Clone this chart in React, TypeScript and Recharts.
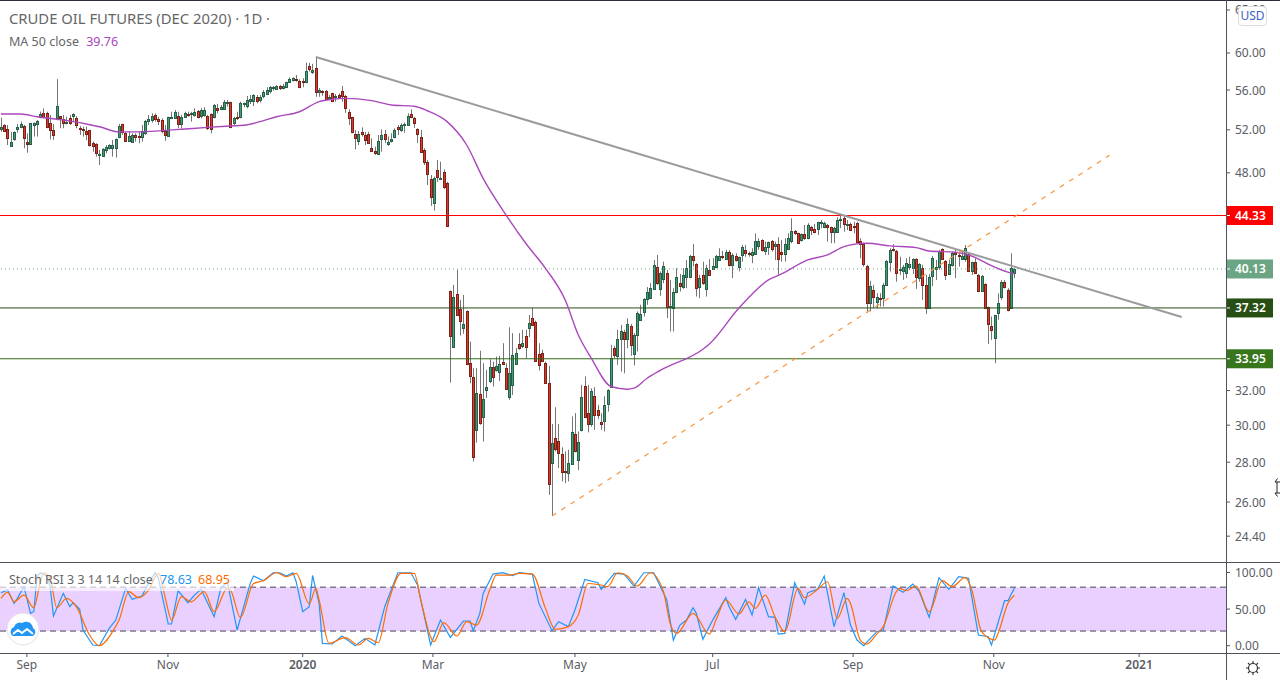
// App.tsx - crude oil futures daily chart with MA 50 and Stoch RSI pane
import React from "react";
import {
  Bar,
  ComposedChart,
  Line,
  ReferenceArea,
  ReferenceLine,
  XAxis,
  YAxis,
} from "recharts";

// open, high, low, close - Sep 2019 to Oct 2019
const candlesSep19 = [
  [52.1,53.2,51.8,52.3],[52.44,52.55,51.8,51.9],[52.05,52.47,50.55,51.18],[50.48,51.8,50.4,50.8],[51.08,51.85,50.95,51.8],
  [52.1,52.57,51.72,52.27],[52.3,52.8,52.15,52.57],[52.37,52.47,50.25,51.25],[50.8,51.66,49.83,50.68],[50.68,52.65,50.65,52.63],
  [52.5,52.72,51.35,52.7],[52.6,52.96,51.35,52.86],[53.22,53.8,53.12,53.52],[53.62,54.13,53.12,53.22],[53.62,53.78,52.15,52.3],
  [52.63,53.45,51.08,51.98],[51.98,52.57,51.02,51.53],[53.15,57.15,52.96,54.33],[53.32,53.35,52.15,53.15],[53.03,53.45,52.15,52.63],
  [52.63,53.28,52.53,52.8],[53.12,53.45,52.47,52.7],[53.35,53.62,52.8,53.55],[53.15,53.35,52.15,52.5],[52.18,52.37,51.5,52.1],
  [52.1,52.3,51.35,51.98],[51.88,52.3,51.02,51.62],[51.98,52,50.4,50.52],[50.72,50.87,49.92,50.46],[50.64,50.72,49.47,49.83],
  [49.65,50.08,48.7,49.72],[49.55,50.25,49.47,50.14],[50.08,50.55,49.78,50.33],[50.3,50.62,50.14,50.55],[50.3,51.02,49.47,50.52],
  [50.3,51.18,49.38,51.08],[51.35,52.57,51.18,52.34],[52.57,52.6,51.5,51.8],[51.72,51.8,50.87,50.95],[50.95,51.8,50.87,51.42],
  [50.87,51.66,50.78,51.5],[51.5,51.66,50.87,51.32],[51.42,51.8,50.72,51.32],[51.32,52.47,50.87,51.85],[51.72,52.96,51.5,52.83],
  [52.83,53.45,52.47,53.03],[52.93,53.62,52.7,53.38],[53.42,53.62,52.8,53.03],[53.03,53.28,52.47,52.9],
];

// Nov 2019 to mid Jan 2020
const candlesNov19 = [
  [52.96,53.12,51.66,51.85],[51.92,52.47,50.95,51.47],[51.42,53.28,51.35,53.22],[53.18,53.78,53.12,53.28],[53.18,53.95,53.12,53.72],
  [53.38,53.78,52.15,52.57],[52.57,53.45,52.15,53.22],[53.28,53.78,53.25,53.62],[53.58,53.78,53.28,53.42],[53.52,53.78,52.8,53.62],
  [53.45,54.13,53.28,53.78],[53.82,53.95,53.12,53.28],[53.38,54.13,53.12,53.92],[53.45,54.23,53.28,53.95],[53.35,53.45,51.98,52.15],
  [53.55,53.62,51.66,52.1],[53.28,54.56,53.12,54.43],[54.16,54.56,53.62,53.98],[54.09,54.46,53.95,54.26],[54.09,54.97,53.95,54.76],
  [54.7,54.97,54.28,54.76],[54.76,54.8,52.15,52.3],[52.7,53.28,52.47,53.15],[53.25,53.78,52.96,53.12],[53.25,54.8,53.12,54.66],
  [54.53,54.7,54.23,54.63],[54.36,55.38,54.13,54.97],[54.84,55.48,54.56,55.04],[54.84,55.58,54.36,55.48],[55.24,55.48,54.63,54.9],
  [54.97,55.48,54.7,55.24],[55.41,56,55.14,55.76],[55.55,56.29,55.48,56],[55.93,56.42,55.65,56.29],[56.21,56.42,55.93,56.32],
  [56.07,56.5,56,56.39],[56.39,56.53,56,56.18],[56.25,56.64,56.07,56.46],[56.35,56.88,56.29,56.81],[56.88,57.35,56.76,57.13],
  [57.02,57.35,56.88,57.24],[57.13,57.59,56.88,57.02],[56.95,57.13,56.18,56.35],[56.95,57.24,56.29,56.85],[56.85,58.93,56.71,58.02],
  [58.57,58.9,57.95,58.2],[57.88,58.8,57.7,58.13],[58.34,59.59,55.3,55.76],
];

// mid Jan 2020 to the March gap
const candlesJan20 = [
  [55.8,56.2,55.3,56],[55.86,56,55.41,55.76],[55.9,56,55.04,55.1],[55.14,55.48,55.04,55.3],[55.65,55.72,54.8,54.87],
  [55.24,55.58,54.8,55.38],[55.45,55.65,55.14,55.3],[55.86,56.42,54.8,55.41],[55.38,55.48,53.68,54.2],[53.72,54.02,52.47,53.18],
  [53.22,53.28,51.66,51.8],[51.56,51.98,50.14,51.25],[50.95,51.88,50.55,51.56],[51.75,52.24,51.35,51.56],[51.47,51.8,50.55,50.99],
  [51.56,51.8,50.72,50.78],[50.25,51.18,49.92,49.98],[49.98,50.4,49.62,49.83],[49.74,51.5,49.72,50.9],[51.15,52.05,49.92,51.47],
  [51.56,51.98,50.72,51.15],[50.68,51.35,50.46,50.8],[50.95,51.66,50.78,51.08],[51.28,52.15,51.18,51.95],[52.24,52.47,51.5,52.05],
  [52.01,52.63,51.8,52.44],[52.44,52.7,51.72,52.53],[52.5,53.62,52.37,53.35],[53.52,54.02,53.12,53.28],[53.12,53.28,52.2,52.7],
  [52.05,52.15,50.72,51.56],[51.28,51.98,49.83,49.92],[50.05,50.25,48.7,49],[48.95,49.16,46.92,47.92],[47.42,47.8,45.13,45.86],
  [45.4,47.65,44.73,47.5],[48.22,49.16,47.2,47.65],[47.44,49,47.4,47.56],[48.05,48.3,46.57,46.77],[47.07,47.2,43.42,43.5],
];

// March 2020 crash and the rebound into June
const candlesMar20 = [
  [38.52,38.55,32.48,35.45],[34.7,38.96,34.63,38.1],[38.29,40.06,36.77,36.84],[37.28,37.89,35.45,36.45],[35.92,38.24,35.57,36.23],
  [37.1,37.15,33.55,33.61],[33.71,35.05,32.44,32.9],[32.8,33.36,28.04,28.27],[29.76,33.36,29.04,31.88],[31.78,34.46,30.02,30.15],
  [30.48,33.67,29.1,31.49],[32.06,33.26,31.56,32.2],[32.6,33.92,32.44,33.43],[33.43,33.77,32.24,32.8],[33.22,34.09,33.15,33.51],
  [33.12,34.14,32.57,33.61],[33.73,34.95,33.55,33.61],[33.36,33.67,32.08,32.12],[31.59,36,31.45,33.05],[32.32,35.61,31.74,34.18],
  [33.59,34.63,33.57,34.34],[34.92,35.61,34.52,34.66],[34.77,35.83,34.63,34.97],[35.41,35.83,33.98,34.73],[35.98,36.84,35.35,36.27],
  [36.61,37.31,36.09,36.14],[36.39,36.45,33.75,33.83],[34.24,34.95,33.22,33.53],[34.3,34.52,33.77,33.83],[33.67,33.77,32.4,32.44],
  [32.44,33.51,26.35,26.88],[27.96,30.07,25.33,29],[29.28,31.02,28.57,28.7],[29.12,30.07,27.7,28.46],[28.42,28.79,27.02,27.49],
  [27.54,28.57,26.93,27.49],[27.44,28.66,27.02,27.96],[27.91,30.49,27.87,29.61],[29.5,30.68,28.52,28.59],[28.11,29.65,27.59,29.06],
  [29.72,32.34,29.65,31.62],[32.26,32.85,30.4,30.45],[30.68,32.34,29.6,30.09],[30.09,32.14,29.92,31.96],[31.66,32.2,29.74,30.56],
  [30.85,31.16,30.34,30.6],[30.18,30.68,29.74,30.06],[30.26,31.66,29.65,31.14],[31.2,32.08,30.77,32.02],[32.24,34.84,32.2,34.02],
  [34.63,34.77,33.98,34.16],[34.14,35.83,33.57,35.21],[35.21,36.16,33.15,35.74],[35.68,35.83,33.05,35.21],[35.21,36.61,34.63,36.2],
  [36.07,36.23,34.14,34.82],[34.24,35.61,33.53,35.47],[35.47,37.08,34.41,36.95],[36.48,37.54,36.45,36.88],[37.03,38.01,36.73,37.94],
  [37.94,38.8,37.54,38.43],[38.03,39.08,37.94,38.72],[38.67,40.81,38.6,40.42],[40.27,41.19,38.96,39.08],[38.67,39.94,38.17,39.81],
];

// June 2020 to end of August
const candlesJun20 = [
  [39.4,40.68,39.08,40.36],[39.81,40.06,36.62,37.42],[37.38,39.32,35.72,37.47],[37.31,38.72,35.72,38.45],[38.43,40.18,38.36,39.52],
  [39.08,39.76,38.48,38.91],[38.77,40.18,38.67,39.69],[39.52,40.81,38.72,40.18],[39.56,41.19,39.45,41.11],[41.11,42.05,40.31,40.83],
  [40.49,40.57,38.12,38.72],[38.77,39.69,38.01,39.45],[39.66,40.68,38.96,39.08],[38.67,40.44,38.12,40.18],[40.06,40.86,39.62,39.66],
  [40.11,40.94,40.06,40.36],[40.26,41.19,40.18,41.09],[40.81,41.71,40.78,41.09],[41.09,41.5,40.85,41.03],[40.91,41.58,40.81,41.42],
  [41.42,41.58,40.31,40.42],[40.42,41.32,39.45,41.19],[41.09,41.32,40.68,40.79],[40.31,41.06,39.94,41.01],[41.21,41.97,40.68,41.79],
  [41.55,41.97,41.06,41.37],[41.32,41.45,41.06,41.24],[41.17,41.71,40.57,41.4],[41.24,42.88,41.19,42.26],[41.92,42.49,41.58,42.26],
  [42.33,42.41,41.45,41.55],[41.48,42.23,41.19,41.79],[41.79,42.23,41.19,42.18],[42.26,42.36,41.45,41.68],[41.87,42.23,40.81,42.03],
  [42.03,42.57,39.69,40.91],[41.4,42.36,40.68,41.24],[41.24,42.49,40.68,42.03],[41.68,42.88,41.58,42.49],[42.26,44.1,42.1,43.04],
  [43.04,43.15,42.75,42.88],[42.88,42.93,42.05,42.15],[42.33,42.88,42.23,42.8],[42.8,43.56,42.36,42.49],[42.49,43.7,42.41,43.53],
  [43.37,43.48,42.75,43.12],[43.26,43.64,42.88,42.96],[43.2,43.82,42.75,43.77],[43.69,43.96,43.29,43.77],[43.42,43.82,43.29,43.69],
  [43.53,43.64,42.23,43.37],[43.37,43.42,42.1,42.96],[43.02,43.42,42.1,43.29],[43.02,44.18,42.93,43.96],
];

// September 2020 to the last session
const candlesSep20 = [
  [43.96,44.37,43.29,44.04],[44.1,44.37,43.02,43.61],[43.53,43.96,43.15,43.64],[43.61,43.75,43.1,43.15],[43.48,43.82,42.88,43.42],
  [43.72,43.82,42.1,42.23],[42.26,42.49,40.94,42.07],[42.05,42.15,40.31,40.54],[40.34,40.44,37,37.7],[37.7,39.25,37.08,38.87],
  [38.6,38.96,37.31,38.12],[37.77,38.36,37.31,38.08],[38.03,38.36,37.42,37.98],[38.05,39.08,37.42,38.94],[38.98,40.81,38.87,40.73],
  [40.68,41.71,39.94,41.55],[41.63,42.03,41.45,41.55],[41.48,41.58,39.19,39.86],[40.06,41.06,39.69,40.11],[40.01,40.44,39.32,40.27],
  [39.86,40.94,39.45,40.57],[40.31,41.06,40.06,40.49],[40.21,40.94,39.76,40.86],[40.86,40.94,38.67,39.56],[39.45,40.57,39.19,40.49],
  [40.18,40.44,37.89,38.98],[38.94,39.69,36.91,37.35],[37.35,39.76,37.31,39.52],[39.6,41.11,38.87,40.94],[40.14,40.81,39.32,40.27],
  [40.26,41.58,40.06,41.48],[41.63,41.71,40.81,40.91],[40.71,40.81,39.32,39.71],[39.79,40.81,39.69,40.49],[40.46,41.45,40.31,41.32],
  [41.4,41.58,39.45,41.24],[41.19,41.45,40.31,41.09],[40.91,41.58,40.86,41.11],[40.86,41.97,40.68,41.71],[41.24,41.32,39.94,40.01],
  [40.01,40.68,39.69,40.63],[40.63,40.94,39.81,39.86],[39.66,39.76,38.48,38.55],[38.55,39.69,38.48,39.59],[39.01,39.08,37.31,37.33],
  [37.38,37.42,34.9,36.2],[36.07,36.73,35.17,35.8],[35.28,36.84,33.67,36.82],[37,38.36,36.5,37.66],[38.12,39.32,37.89,39.15],
  [39.15,39.32,38.7,38.77],[38.58,38.72,37.08,37.17],[37.35,41.32,37.31,40.23],[39.86,40.18,39.45,40.13],
];

// MA 50 close: session index, value
const ma50 = [
  [0,53.55],[6,53.55],[11,53.28],[17,53.03],[22,52.8],[26,52.57],[30,52.3],[36,51.8],[42,51.8],[49,51.92],[55,52.05],
  [63,52.24],[70,52.37],[74,52.44],[79,52.8],[84,53.28],[91,53.78],[97,54.8],[101,55.04],[105,55.14],[113,54.9],
  [119,54.46],[126,54.33],[130,53.88],[136,52.8],[142,50.55],[147,47.5],[154,44.37],[160,42.1],[166,40.18],[172,37.89],
  [176,35.5],[180,33.98],[186,32.24],[191,32.08],[193,32.14],[197,32.74],[201,33.22],[214,34.56],[216,34.9],[225,37.31],
  [234,39.32],[238,39.76],[246,40.81],[252,41.19],[257,41.84],[261,42.05],[264,42.1],[271,41.89],[279,41.76],[283,41.5],
  [291,41.4],[297,41.01],[301,40.49],[307,39.89],[309,39.76],
];

// Drawn trend lines: session index, price
const fallingTrend = [[96,59.56],[360,36.7]];
const risingTrend = [[168,25.33],[338,49.6]];

// Stoch RSI %K: session index, value
const stochK = [
  [0,72.4],[2,76],[4,57.8],[5,64.7],[7,80.6],[9,44.2],[10,46.4],[11,94.3],[12,99.7],[14,95.2],[15,80.6],[16,40.5],[19,71.5],
  [21,53.3],[22,58.7],[24,49.6],[25,21.4],[28,0.9],[30,0],[33,23.7],[35,35],[38,78.3],[40,63.3],[43,67.9],[45,85.2],[47,99.7],
  [48,92],[51,29.6],[52,29.6],[54,75.1],[57,58.7],[59,69.2],[61,77],[65,39.6],[67,78.3],[69,87.4],[72,21.4],[76,85.2],[77,95.2],
  [80,88.8],[83,99.7],[85,99.7],[87,95.2],[89,99.7],[90,87.4],[92,46.4],[94,53.3],[95,96],[97,57.8],[98,3.2],[101,2.3],[104,13.2],
  [108,0],[111,10],[114,0.9],[117,53.3],[121,99.7],[125,99.7],[127,82.9],[131,1],[134,35],[137,11.4],[141,33.7],[143,33.7],[144,20.5],
  [146,44.2],[147,71.5],[150,97.9],[153,99.7],[156,95.6],[158,99.7],[162,97.9],[164,57.8],[168,20.5],[170,32.8],[173,26],[175,48.7],
  [178,90.6],[182,86],[183,77],[187,98.8],[190,97.9],[193,81.5],[196,99.7],[199,99.7],[203,62.4],[205,7.7],[207,28.2],[209,35],[211,51.9],
  [212,44.2],[214,8.7],[217,35],[221,65.6],[222,53.3],[224,36],[227,63.3],[229,41.9],[231,79.2],[234,39.6],[236,38.7],[237,15.9],[239,16.8],
  [242,86],[245,56.9],[246,72.4],[249,77],[251,95.2],[254,26],[257,72.4],[259,28.2],[261,7.7],[263,0],[267,19.1],[269,21.4],[272,81.5],
  [275,72.9],[278,84.2],[280,73.8],[283,38.7],[286,92.9],[289,77],[292,94.3],[295,92],[298,14.6],[301,12.3],[302,0.9],[306,61.5],[307,61.5],[309,78.63],
];

// Stoch RSI %D: session index, value
const stochD = [
  [0,64.7],[2,72.9],[4,60],[7,69],[10,52],[12,87],[13,99.7],[15,92],[17,52],[20,64.7],[23,53],[27,14.6],[30,0],[34,19],[36,35],[39,73.8],
  [42,65.6],[45,76],[48,98.8],[50,67],[52,35],[55,67],[58,60],[62,73.8],[65,46.4],[69,78.3],[70,76],[73,38.7],[77,85],[80,88.8],[84,99.7],
  [87,94.3],[90,98.8],[94,57],[96,78.3],[97,62.4],[100,3.2],[105,10.9],[109,0.9],[112,10],[115,4],[118,57.8],[122,98.8],[126,98.8],[128,62.4],
  [131,12.3],[132,5.5],[135,31.4],[139,13.2],[142,32.8],[145,28.2],[149,76],[151,96.5],[155,96.5],[158,98.8],[162,97.9],[166,51],[169,22.3],
  [173,26],[176,41.9],[179,85],[183,82.9],[185,80.6],[188,99.7],[191,95.2],[194,81.5],[198,99.7],[202,73.8],[204,30.5],[206,16.8],[211,44.2],
  [216,15.9],[218,35],[221,62.4],[225,43.3],[228,60],[230,51],[233,69.2],[236,39.6],[239,19.1],[243,78.3],[245,65.6],[249,77],[252,87.4],
  [255,37.3],[258,64.7],[259,57.8],[262,7.7],[264,2.3],[267,15.9],[269,26],[273,73.8],[274,78.3],[276,75.1],[279,81.5],[283,46.4],[287,88.8],
  [290,80.6],[294,93.4],[296,76],[299,19.1],[303,7.7],[304,16.8],[307,57.8],[309,68.95],
];

// Axis ticks
const priceTicks = [65, 60, 56, 52, 48, 44.33, 40.13, 37.32, 33.95, 32, 30, 28, 26, 24.4];
const stochTicks = [0, 50, 100];
const timeTicks = [7.9, 50.9, 92, 131.7, 175, 217, 259.8, 302.7, 347];
const timeLabels = ["Sep", "Nov", "2020", "Mar", "May", "Jul", "Sep", "Nov", "2021"];

const RESISTANCE = 44.33;
const LAST_PRICE = 40.13;
const SUPPORT_HIGH = 37.32;
const SUPPORT_LOW = 33.95;

const candles = [
  ...candlesSep19,
  ...candlesNov19,
  ...candlesJan20,
  ...candlesMar20,
  ...candlesJun20,
  ...candlesSep20,
].map(([open, high, low, close], i) => ({ i, open, high, low, close, range: [low, high] }));

const toPoints = (rows: number[][]) => rows.map(([i, v]) => ({ i, v }));

const FONT = "'Noto Sans', sans-serif";
const AXIS_COLOR = "#50535e";
const TEXT_COLOR = "#5a5d66";
const LEGEND_COLOR = "#666";
const X_DOMAIN: [number, number] = [-0.3, 373.5];

const BADGES: Record<string, string> = {
  "44.33": "#ff0000",
  "40.13": "#6ba583",
  "37.32": "#274e13",
  "33.95": "#38761d",
};

// One candle: the Bar spans low..high, open and close are placed on the same log scale
const Candle = (props: any) => {
  const { x, y, width, height, payload } = props;
  const { open, close, high, low } = payload;
  const toY = (v: number) =>
    y + (height * (Math.log(high) - Math.log(v))) / (Math.log(high) - Math.log(low));
  const cx = Math.round(x + width / 2);
  const up = close >= open;
  const top = Math.round(toY(Math.max(open, close)));
  const bottom = Math.round(toY(Math.min(open, close)));
  return (
    <g>
      <line x1={cx + 0.5} x2={cx + 0.5} y1={y} y2={y + height} stroke="#757575" strokeWidth={1} />
      <rect
        x={cx - 0.5}
        y={top + 0.5}
        width={2}
        height={Math.max(bottom - top, 1)}
        fill={up ? "#479a74" : "#dd3a2e"}
        stroke={up ? "#256048" : "#7a2118"}
        strokeWidth={1}
      />
    </g>
  );
};

const PriceTick = (props: any) => {
  const { x, y, payload } = props;
  const label = payload.value.toFixed(2);
  const badge = BADGES[label];
  return (
    <g>
      {badge && <rect x={x - 4} y={y - 9.5} width={47} height={19} fill={badge} />}
      {badge && <line x1={x - 4} x2={x} y1={y} y2={y} stroke="#ffffff" />}
      <text
        x={x + 5}
        y={y + 4.5}
        fontFamily={FONT}
        fontSize={12}
        fill={badge ? "#ffffff" : TEXT_COLOR}
        fontWeight={badge ? 600 : 400}
      >
        {label}
      </text>
    </g>
  );
};

const TimeTick = (props: any) => {
  const { x, y, index } = props;
  const label = timeLabels[index];
  const isYear = label.length === 4;
  return (
    <text
      x={x}
      y={y + 10}
      textAnchor="middle"
      fontFamily={FONT}
      fontSize={12}
      fontWeight={isYear ? 600 : 400}
      fill={TEXT_COLOR}
    >
      {label}
    </text>
  );
};

const Overlay = () => (
  <>
    {/* frame lines */}
    <div style={{ position: "absolute", left: 0, top: 0, width: 1280, height: 1, background: "#2a2e39" }} />
    <div style={{ position: "absolute", left: 0, top: 562, width: 1280, height: 1, background: AXIS_COLOR }} />
    <div style={{ position: "absolute", left: 0, top: 653, width: 1280, height: 1, background: AXIS_COLOR }} />
    <div style={{ position: "absolute", left: 1226, top: 0, width: 1, height: 680, background: AXIS_COLOR }} />

    {/* main pane legend */}
    <div style={{ position: "absolute", left: 9, top: 7.5, fontFamily: FONT, fontSize: 14.8, color: LEGEND_COLOR, whiteSpace: "nowrap" }}>
      CRUDE OIL FUTURES (DEC 2020) · 1D ·
    </div>
    <div style={{ position: "absolute", left: 9, top: 33, fontFamily: FONT, fontSize: 12.5, color: LEGEND_COLOR, whiteSpace: "nowrap" }}>
      MA 50 close <span style={{ color: "#ab47bc", marginLeft: 4 }}>39.76</span>
    </div>

    {/* stoch legend */}
    <div
      style={{
        position: "absolute",
        left: 0,
        top: 571,
        width: 234,
        height: 20,
        background: "rgba(255,255,255,0.65)",
      }}
    />
    <div style={{ position: "absolute", left: 9, top: 570.5, fontFamily: FONT, fontSize: 12.5, color: LEGEND_COLOR, whiteSpace: "nowrap" }}>
      Stoch RSI 3 3 14 14 close{" "}
      <span style={{ color: "#2196f3", marginLeft: 4 }}>78.63</span>
      <span style={{ color: "#ff6d00", marginLeft: 6 }}>68.95</span>
    </div>

    {/* currency badge */}
    <div
      style={{
        position: "absolute",
        left: 1238,
        top: 6,
        width: 29,
        height: 20,
        boxSizing: "border-box",
        background: "#fff",
        border: "1px solid #dcdcdc",
        borderRadius: 4,
        fontFamily: FONT,
        fontSize: 12,
        lineHeight: "18px",
        textAlign: "center",
        color: "#3d62c4",
      }}
    >
      USD
    </div>

    {/* logo */}
    <svg style={{ position: "absolute", left: 6, top: 612 }} width={34} height={34}>
      <circle cx={17} cy={17} r={16} fill="#fff" stroke="#e8dfe8" />
      <path d="M7 24 a5 5 0 0 1 1 -9 a6 6 0 0 1 8 -4 a7 7 0 0 1 11 5 a4.5 4.5 0 0 1 0 8 z" fill="#2196f3" />
      <path d="M7 22 l5 -4 l4 3 l5 -4 l6 5" fill="none" stroke="#fff" strokeWidth={2} />
    </svg>

    {/* settings gear */}
    <svg style={{ position: "absolute", left: 1245, top: 660 }} width={16} height={16}>
      <circle cx={8} cy={8} r={4.5} fill="none" stroke="#333" strokeWidth={1.2} />
      <path
        d="M8 1v2.5M8 12.5V15M1 8h2.5M12.5 8H15M3 3l1.8 1.8M11.2 11.2L13 13M3 13l1.8-1.8M11.2 4.8L13 3"
        stroke="#333"
        strokeWidth={1.2}
      />
    </svg>

    {/* resize cursor left on the price scale */}
    <svg style={{ position: "absolute", left: 1274, top: 477 }} width={6} height={21}>
      <path d="M3.5 1.5 L1 5 H3 V16 H1 L3.5 19.5 M3 5 H6 M3 16 H6" fill="none" stroke="#222" strokeWidth={1} />
    </svg>
  </>
);

export default function App() {
  return (
    <div style={{ position: "absolute", left: 0, top: 0, width: 1280, height: 680, background: "#fff", overflow: "hidden" }}>
      {/* price pane */}
      <div style={{ position: "absolute", left: 0, top: 0 }}>
        <ComposedChart
          width={1280}
          height={563}
          data={candles}
          barCategoryGap={0}
          margin={{ top: 0, right: 0, bottom: 0, left: 0 }}
        >
          <XAxis type="number" dataKey="i" domain={X_DOMAIN} hide allowDataOverflow />
          <YAxis
            orientation="right"
            width={54}
            scale="log"
            domain={[23.21, 66.22]}
            allowDataOverflow
            ticks={priceTicks}
            interval={0}
            tick={<PriceTick />}
            tickSize={4}
            tickMargin={0}
            tickLine={{ stroke: AXIS_COLOR }}
            axisLine={false}
          />
          <Bar dataKey="range" barSize={3} shape={<Candle />} isAnimationActive={false} />
          <ReferenceLine y={RESISTANCE} stroke="#ff0000" />
          <ReferenceLine y={LAST_PRICE} stroke="#6ba583" strokeDasharray="1 3" />
          <ReferenceLine y={SUPPORT_HIGH} stroke="#274e13" />
          <ReferenceLine y={SUPPORT_LOW} stroke="#2f6a14" />
          <Line
            data={toPoints(ma50)}
            dataKey="v"
            type="monotone"
            stroke="#ab47bc"
            strokeWidth={1.4}
            dot={false}
            isAnimationActive={false}
          />
          <Line
            data={toPoints(fallingTrend)}
            dataKey="v"
            stroke="#9b9b9b"
            strokeWidth={2}
            dot={false}
            isAnimationActive={false}
          />
          <Line
            data={toPoints(risingTrend)}
            dataKey="v"
            stroke="#f7963f"
            strokeWidth={1.2}
            strokeDasharray="5 6"
            dot={false}
            isAnimationActive={false}
          />
        </ComposedChart>
      </div>

      {/* stoch rsi pane */}
      <div style={{ position: "absolute", left: 0, top: 563 }}>
        <ComposedChart width={1280} height={117} margin={{ top: 0, right: 0, bottom: 0, left: 0 }}>
          <XAxis
            type="number"
            dataKey="i"
            domain={X_DOMAIN}
            allowDataOverflow
            ticks={timeTicks}
            interval={0}
            height={27}
            tick={<TimeTick />}
            tickSize={4}
            tickLine={{ stroke: AXIS_COLOR }}
            axisLine={false}
          />
          <YAxis
            orientation="right"
            width={54}
            domain={[-10, 113]}
            allowDataOverflow
            ticks={stochTicks}
            interval={0}
            tick={<PriceTick />}
            tickSize={4}
            tickMargin={0}
            tickLine={{ stroke: AXIS_COLOR }}
            axisLine={false}
          />
          <ReferenceArea y1={20} y2={80} fill="#9c27ff" fillOpacity={0.22} stroke="none" />
          <ReferenceLine y={80} stroke="#4a4458" strokeDasharray="6 4" />
          <ReferenceLine y={20} stroke="#4a4458" strokeDasharray="6 4" />
          <Line
            data={toPoints(stochK)}
            dataKey="v"
            stroke="#2196f3"
            strokeWidth={1.2}
            dot={false}
            isAnimationActive={false}
          />
          <Line
            data={toPoints(stochD)}
            dataKey="v"
            type="monotone"
            stroke="#ff6d00"
            strokeWidth={1.2}
            dot={false}
            isAnimationActive={false}
          />
        </ComposedChart>
      </div>

      <Overlay />
    </div>
  );
}
